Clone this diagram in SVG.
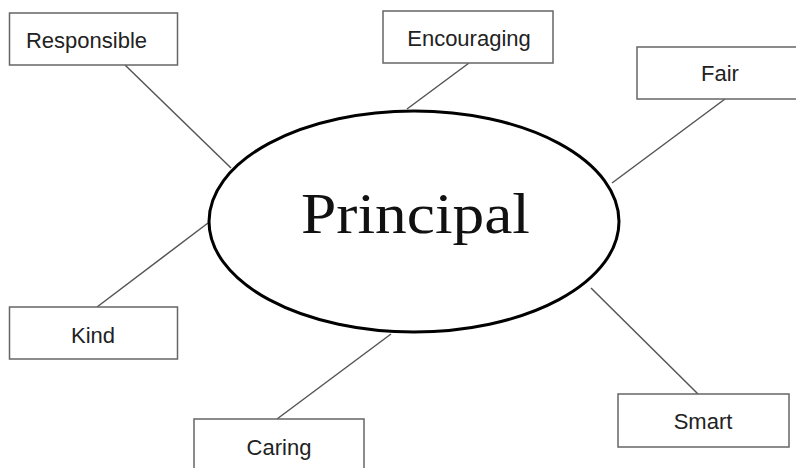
<svg xmlns="http://www.w3.org/2000/svg" width="796" height="468" viewBox="0 0 796 468">
<style>
.box{fill:#fff;stroke:#666;stroke-width:1.5}
.lbl{font-family:"Liberation Sans",Arial,sans-serif;font-size:22px;fill:#222;text-anchor:middle}
.con line{stroke:#555;stroke-width:1.5}
</style>
<rect width="796" height="468" fill="#fff"/>
<g id="connectors" class="con">
<line x1="125" y1="65" x2="231" y2="168"/>
<line x1="469" y1="63" x2="407" y2="109"/>
<line x1="725" y1="99" x2="612" y2="183"/>
<line x1="97" y1="307" x2="208" y2="223"/>
<line x1="277" y1="419" x2="391" y2="334"/>
<line x1="698" y1="394" x2="591" y2="288"/>
</g>
<g id="principal">
<ellipse cx="414" cy="221.5" rx="205" ry="110.5" fill="#fff" stroke="#000" stroke-width="3"/>
<text x="415.5" y="233" font-family="'Liberation Serif','Times New Roman',serif" font-size="58" fill="#111" text-anchor="middle" textLength="229" lengthAdjust="spacingAndGlyphs">Principal</text>
</g>
<g id="responsible"><rect class="box" x="9.5" y="13" width="168" height="52"/><text class="lbl" x="86.5" y="48">Responsible</text></g>
<g id="encouraging"><rect class="box" x="383" y="11" width="170" height="52"/><text class="lbl" x="469" y="46">Encouraging</text></g>
<g id="fair"><rect class="box" x="637" y="47" width="166" height="52"/><text class="lbl" x="720" y="81">Fair</text></g>
<g id="kind"><rect class="box" x="9.5" y="307" width="168" height="52"/><text class="lbl" x="93" y="343">Kind</text></g>
<g id="caring"><rect class="box" x="194" y="419" width="170" height="52"/><text class="lbl" x="279" y="455">Caring</text></g>
<g id="smart"><rect class="box" x="618" y="394" width="171" height="53"/><text class="lbl" x="703" y="429">Smart</text></g>
</svg>
